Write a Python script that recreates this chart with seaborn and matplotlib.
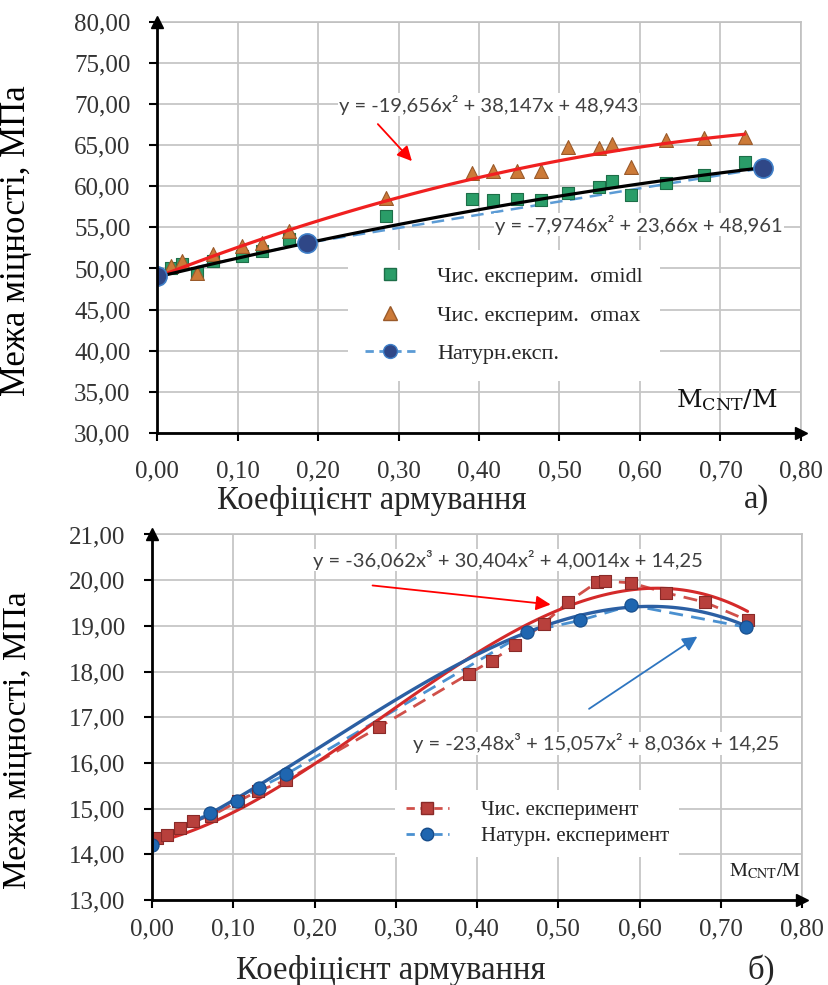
import numpy as np
import matplotlib
matplotlib.use("Agg")
import matplotlib.pyplot as plt
from matplotlib.lines import Line2D
from matplotlib.ticker import FuncFormatter
import seaborn as sns

# ---- chart a) : strength vs reinforcement ratio ----
ratio_a = [0.000, 0.017, 0.031, 0.050, 0.070, 0.105, 0.131, 0.164, 0.285, 0.391,
           0.417, 0.447, 0.477, 0.511, 0.549, 0.565, 0.589, 0.632, 0.679, 0.730]
sigma_midl = [49.3, 50.0, 50.6, 49.5, 50.9, 51.5, 52.1, 53.6, 56.4, 58.4,
              58.3, 58.4, 58.3, 59.2, 59.9, 60.6, 58.9, 60.4, 61.4, 63.0]
sigma_max = [49.4, 50.3, 50.9, 49.5, 51.8, 52.7, 53.1, 54.6, 58.6, 61.6,
             61.8, 61.8, 61.9, 64.8, 64.6, 65.1, 62.3, 65.6, 65.8, 66.0]
ratio_nat_a = [0.000, 0.186, 0.753]
sigma_nat_a = [49.1, 53.1, 62.2]
trend_max_a = [-19.656, 38.147, 48.943]
trend_nat_a = [-7.9746, 23.66, 48.961]

# ---- chart б) ----
ratio_num_b = [0.006, 0.018, 0.034, 0.051, 0.073, 0.106, 0.130, 0.165, 0.279, 0.390,
               0.418, 0.447, 0.482, 0.512, 0.548, 0.557, 0.590, 0.633, 0.680, 0.733]
sigma_num_b = [14.36, 14.43, 14.58, 14.73, 14.84, 15.16, 15.38, 15.62, 16.78, 17.95,
               18.24, 18.57, 19.05, 19.52, 19.96, 19.98, 19.94, 19.72, 19.52, 19.12]
ratio_nat_b = [0.000, 0.071, 0.104, 0.132, 0.165, 0.461, 0.527, 0.590, 0.731]
sigma_nat_b = [14.21, 14.91, 15.16, 15.46, 15.75, 18.86, 19.12, 19.45, 18.97]
trend_num_b = [-36.062, 30.404, 4.0014, 14.25]
trend_nat_b = [-23.48, 15.057, 8.036, 14.25]

xticks = np.round(np.arange(0, 0.81, 0.1), 2)
yticks_a = np.arange(30, 80.1, 5)
yticks_b = np.arange(13, 21.1, 1)

sns.set_theme(style="whitegrid")
plt.rcParams["font.family"] = ["Liberation Serif", "DejaVu Serif"]

comma = FuncFormatter(lambda v, _: f"{v:.2f}".replace(".", ","))


def style_axes(ax, ylim, yticks, xpad):
    ax.set_xlim(0, 0.8)
    ax.set_ylim(*ylim)
    ax.set_xticks(xticks)
    ax.set_yticks(yticks)
    ax.xaxis.set_major_formatter(comma)
    ax.yaxis.set_major_formatter(comma)
    ax.set_facecolor("white")
    ax.grid(True, color="#c6c6c6", linewidth=1.3)
    for side in ["top", "right"]:
        ax.spines[side].set_color("#c0c0c0")
        ax.spines[side].set_linewidth(1.2)
    for side in ["left", "bottom"]:
        ax.spines[side].set_color("black")
        ax.spines[side].set_linewidth(2)
        ax.spines[side].set_zorder(6)
    ax.tick_params(axis="both", bottom=True, left=True, direction="out", length=6,
                   width=1.5, color="black", labelsize=18, labelcolor="#333333")
    ax.tick_params(axis="y", pad=13)
    ax.tick_params(axis="x", pad=xpad)
    # arrow heads on the axes
    ax.plot(0, 1, marker="^", color="black", markersize=8, transform=ax.transAxes,
            clip_on=False, zorder=7)
    ax.plot(1, 0, marker=">", color="black", markersize=8, transform=ax.transAxes,
            clip_on=False, zorder=7)


fig = plt.figure(figsize=(8.29, 9.85), dpi=100)
ax1 = fig.add_axes([0.1894, 0.5604, 0.7768, 0.4176])
ax2 = fig.add_axes([0.1834, 0.0863, 0.7841, 0.3711])

# ---------- a) ----------
xs = np.linspace(0, 0.73, 100)
sns.lineplot(x=xs, y=np.polyval(trend_max_a, xs), color="#f02020", linewidth=2.3, ax=ax1, zorder=4)
xs = np.linspace(0, 0.755, 100)
sns.lineplot(x=ratio_nat_a, y=sigma_nat_a, sort=False, color="#5b9bd5", linewidth=1.8,
             linestyle=(0, (5, 3)), ax=ax1, zorder=3)
sns.lineplot(x=xs, y=np.polyval(trend_nat_a, xs), color="black", linewidth=2.3, ax=ax1, zorder=4)
sns.scatterplot(x=ratio_a, y=sigma_midl, marker="s", s=75, color="#2a9d68",
                edgecolor="#1d6e48", linewidth=0.8, ax=ax1, zorder=3)
sns.scatterplot(x=ratio_a, y=sigma_max, marker="^", s=100, color="#cc7a38",
                edgecolor="#9a5a2a", linewidth=0.8, ax=ax1, zorder=3)
sns.scatterplot(x=ratio_nat_a, y=sigma_nat_a, marker="o", s=190, color="#2f4787",
                edgecolor="#3f7fc8", linewidth=1.2, ax=ax1, zorder=5)
style_axes(ax1, (30, 80), yticks_a, 14)

eq_font = dict(family=["Lato", "DejaVu Sans"], color="#404040", fontsize=14.5)
ax1.text(0.412, 69.9, "y = -19,656x² + 38,147x + 48,943", ha="center", va="center",
         bbox=dict(facecolor="white", edgecolor="none", pad=1), zorder=6, **eq_font)
ax1.text(0.599, 55.3, "y = -7,9746x² + 23,66x + 48,961", ha="center", va="center",
         bbox=dict(facecolor="white", edgecolor="none", pad=1), zorder=6, **eq_font)
ax1.annotate("", xy=(0.319, 62.8), xytext=(0.272, 67.8),
             arrowprops=dict(arrowstyle="-|>", color="red", lw=1.3, mutation_scale=22), zorder=6)
ax1.text(0.708, 34.0, r"$\mathrm{M_{CNT}/M}$", ha="center", va="center", fontsize=18,
         math_fontfamily="dejavuserif", color="#111111", zorder=6)

handles_a = [
    Line2D([], [], linestyle="none", marker="s", markersize=9, markerfacecolor="#2a9d68",
           markeredgecolor="#1d6e48"),
    Line2D([], [], linestyle="none", marker="^", markersize=10, markerfacecolor="#cc7a38",
           markeredgecolor="#9a5a2a"),
    Line2D([], [], linestyle=(0, (3, 2)), color="#5b9bd5", linewidth=2, marker="o",
           markersize=10, markerfacecolor="#2f4787", markeredgecolor="#3f7fc8"),
]
leg = ax1.legend(handles_a, ["Чис. експерим.  σmidl", "Чис. експерим.  σmax", "Натурн.експ."],
                 loc="upper left", bbox_to_anchor=(0.297, 0.445), borderaxespad=0,
                 fontsize=16, labelspacing=0.8, handlelength=2.3, handletextpad=0.95,
                 frameon=True, facecolor="white", edgecolor="none", framealpha=1,
                 fancybox=False, borderpad=0.75)
leg.set_zorder(8)

ax1.set_xlabel("")
ax1.set_ylabel("Межа міцності, МПа", fontsize=25, color="black")
ax1.yaxis.set_label_coords(33 / 829, 1 - 241 / 985, transform=fig.transFigure)
fig.text(372 / 829, 1 - 500 / 985, "Коефіцієнт армування", ha="center", va="center", fontsize=23.5)
fig.text(757 / 829, 1 - 500 / 985, "а)", ha="center", va="center", fontsize=23.5)

# ---------- б) ----------
xs = np.linspace(0, 0.733, 120)
sns.lineplot(x=xs, y=np.polyval(trend_num_b, xs), color="#d42a2a", linewidth=2.2, ax=ax2, zorder=4)
sns.lineplot(x=xs, y=np.polyval(trend_nat_b, xs), color="#2b5fa3", linewidth=2.4, ax=ax2, zorder=4)
sns.lineplot(x=ratio_num_b, y=sigma_num_b, sort=False, color="#d0504a", linewidth=2,
             linestyle=(0, (5, 3)), ax=ax2, zorder=3)
sns.lineplot(x=ratio_nat_b, y=sigma_nat_b, sort=False, color="#4a90d0", linewidth=2,
             linestyle=(0, (5, 3)), ax=ax2, zorder=3)
sns.scatterplot(x=ratio_num_b, y=sigma_num_b, marker="s", s=70, color="#b8403c",
                edgecolor="#8a2a28", linewidth=0.8, ax=ax2, zorder=5)
sns.scatterplot(x=ratio_nat_b, y=sigma_nat_b, marker="o", s=90, color="#1f66b0",
                edgecolor="#164c8a", linewidth=0.8, ax=ax2, zorder=5)
style_axes(ax2, (13, 21), yticks_b, 7)

ax2.text(0.438, 20.44, "y = -36,062x³ + 30,404x² + 4,0014x + 14,25", ha="center", va="center",
         bbox=dict(facecolor="white", edgecolor="none", pad=1), zorder=6, **eq_font)
ax2.text(0.546, 16.43, "y = -23,48x³ + 15,057x² + 8,036x + 14,25", ha="center", va="center",
         bbox=dict(facecolor="white", edgecolor="none", pad=1), zorder=6, **eq_font)
ax2.annotate("", xy=(0.494, 19.46), xytext=(0.268, 19.89),
             arrowprops=dict(arrowstyle="-|>", color="red", lw=1.3, mutation_scale=22), zorder=6)
ax2.annotate("", xy=(0.674, 18.80), xytext=(0.535, 17.15),
             arrowprops=dict(arrowstyle="-|>", color="#2e75c0", lw=1.3, mutation_scale=22), zorder=6)
ax2.text(0.755, 13.62, r"$\mathrm{M_{CNT}/M}$", ha="center", va="center", fontsize=14.5,
         math_fontfamily="stix", color="#222222", zorder=6)

handles_b = [
    Line2D([], [], linestyle=(0, (3, 2)), color="#d0504a", linewidth=2, marker="s",
           markersize=8, markerfacecolor="#b8403c", markeredgecolor="#8a2a28"),
    Line2D([], [], linestyle=(0, (3, 2)), color="#4a90d0", linewidth=2, marker="o",
           markersize=9, markerfacecolor="#1f66b0", markeredgecolor="#164c8a"),
]
leg2 = ax2.legend(handles_b, ["Чис. експеримент", "Натурн. експеримент"],
                  loc="upper left", bbox_to_anchor=(0.374, 0.30), borderaxespad=0,
                  fontsize=15, labelspacing=0.3, handlelength=2.1, handletextpad=1.5,
                  frameon=True, facecolor="white", edgecolor="none", framealpha=1,
                  fancybox=False, borderpad=0.5)
leg2.set_zorder(8)

ax2.set_xlabel("")
ax2.set_ylabel("Межа міцності, МПа", fontsize=24, color="black")
ax2.yaxis.set_label_coords(33 / 829, 1 - 740 / 985, transform=fig.transFigure)
fig.text(391 / 829, 1 - 970 / 985, "Коефіцієнт армування", ha="center", va="center", fontsize=23.5)
fig.text(761 / 829, 1 - 970 / 985, "б)", ha="center", va="center", fontsize=23.5)

fig.savefig("out.png", dpi=100, facecolor="white")
